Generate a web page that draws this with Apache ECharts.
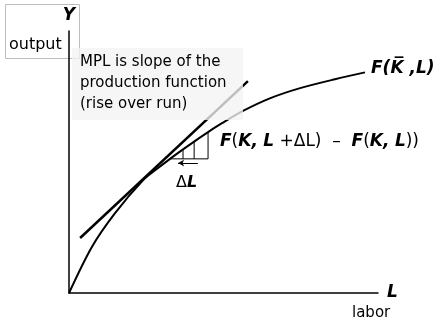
<!DOCTYPE html>
<html lang="en">

<head>
  <meta charset="UTF-8" />
  <title>MPL as slope of the production function</title>
  <script src="https://cdn.jsdelivr.net/npm/echarts@6/dist/echarts.min.js"></script>
  <style>
    html, body { margin: 0; padding: 0; background: #fff; }
    #chart { width: 438px; height: 327px; }
  </style>
</head>

<body>
  <div id="chart"></div>

  <script>
    // production function F(K,L) (axis scale 0..100)
    const curveL = [0, 7.4, 14.9, 24.0, 28.5, 32.7, 36.9, 40.5, 45.0, 49.5, 56.3, 65.0, 74.8, 86.1, 95.8];
    const curveY = [0, 17.6, 30.5, 43.1, 47.4, 51.2, 54.8, 57.8, 61.4, 64.8, 69.5, 74.3, 78.2, 81.6, 84.2];

    // tangent line (the slope = MPL)
    const tangentL = [3.6, 57.9];
    const tangentY = [21.0, 80.9];

    // rise over run steps
    const stepBaseL = [32.7, 45.0];
    const stepBaseY = 51.2;
    const stepL = [36.9, 40.5, 45.0];
    const stepTop = [54.8, 57.8, 61.4];

    // small arrow under the run
    const arrowL = [41.7, 35.3];
    const arrowY = 49.6;

    const font = '"DejaVu Sans", Verdana, sans-serif';
    const chart = echarts.init(document.getElementById('chart'));

    const zip = (xs, ys) => xs.map((x, i) => [x, ys[i]]);

    const stepSeries = stepL.map((l, i) => ({
      type: 'line',
      data: [[l, stepBaseY], [l, stepTop[i]]],
      symbol: 'none',
      lineStyle: { color: '#000', width: 1 },
      silent: true
    }));

    const bold = { fontFamily: font, fontSize: 17, fontWeight: 'bold', fontStyle: 'italic' };
    const plain = { fontFamily: font, fontSize: 17 };

    const option = {
      animation: false,
      grid: { left: 69, top: 31, width: 309, height: 262 },
      xAxis: {
        type: 'value', min: 0, max: 100,
        name: 'L', nameLocation: 'end', nameGap: 9,
        nameTextStyle: { fontFamily: font, fontSize: 17, fontWeight: 'bold', fontStyle: 'italic', color: '#000' },
        axisLine: { lineStyle: { color: '#000', width: 1.5 } },
        axisTick: { show: false }, axisLabel: { show: false }, splitLine: { show: false }
      },
      yAxis: {
        type: 'value', min: 0, max: 100,
        name: 'Y', nameLocation: 'end', nameGap: 7,
        nameTextStyle: { fontFamily: font, fontSize: 17, fontWeight: 'bold', fontStyle: 'italic', color: '#000' },
        axisLine: { lineStyle: { color: '#000', width: 1.5 } },
        axisTick: { show: false }, axisLabel: { show: false }, splitLine: { show: false }
      },
      series: [
        {
          type: 'line',
          data: zip(curveL, curveY),
          smooth: 0.3,
          symbol: 'none',
          lineStyle: { color: '#000', width: 2 },
          silent: true
        },
        {
          type: 'line',
          data: zip(tangentL, tangentY),
          symbol: 'none',
          lineStyle: { color: '#000', width: 2.5 },
          silent: true
        },
        {
          type: 'line',
          data: stepBaseL.map(l => [l, stepBaseY]),
          symbol: 'none',
          lineStyle: { color: '#000', width: 1 },
          silent: true,
          markLine: {
            silent: true,
            symbol: ['none', 'arrow'],
            symbolSize: [5, 6],
            label: { show: false },
            lineStyle: { color: '#000', width: 1, type: 'solid' },
            data: [[{ coord: [arrowL[0], arrowY] }, { coord: [arrowL[1], arrowY] }]]
          }
        },
        ...stepSeries
      ],
      graphic: [
        // "output" box behind the y axis
        {
          type: 'rect', z: -10, silent: true,
          shape: { x: 5.5, y: 4.5, width: 74, height: 54 },
          style: { fill: '#fff', stroke: '#bdbdbd', lineWidth: 1 }
        },
        {
          type: 'text', z: -9, left: 9, top: 37,
          style: { text: 'output', font: '16px ' + font, fill: '#000' }
        },
        // note box, drawn over the lines so they fade under it
        {
          type: 'rect', z: 10, silent: true,
          shape: { x: 72, y: 48, width: 171, height: 72 },
          style: { fill: 'rgba(244,244,244,0.78)' }
        },
        {
          type: 'text', z: 11, left: 80, top: 52,
          style: {
            text: 'MPL is slope of the\nproduction function\n(rise over run)',
            font: '15px ' + font, lineHeight: 21, fill: '#000'
          }
        },
        {
          type: 'text', z: 11, left: 371, top: 60,
          style: {
            text: 'F(K\u0305 ,L)',
            font: 'italic bold 17px ' + font, fill: '#000'
          }
        },
        {
          type: 'text', z: 11, left: 220, top: 133,
          style: {
            text: '{b|F}{r|(}{b|K,} {b|L} {r|+ΔL)  –  }{b|F}{r|(}{b|K,} {b|L}{r|))}',
            font: '17px ' + font, fill: '#000',
            rich: { b: bold, r: plain }
          }
        },
        {
          type: 'text', z: 11, left: 176, top: 175,
          style: {
            text: '{r|Δ}{b|L}',
            font: '16px ' + font, fill: '#000',
            rich: {
              b: { fontFamily: font, fontSize: 16, fontWeight: 'bold', fontStyle: 'italic' },
              r: { fontFamily: font, fontSize: 16 }
            }
          }
        },
        {
          type: 'text', z: 11, left: 352, top: 306,
          style: { text: 'labor', font: '15px ' + font, fill: '#000' }
        }
      ]
    };

    chart.setOption(option);
  </script>
</body>

</html>
